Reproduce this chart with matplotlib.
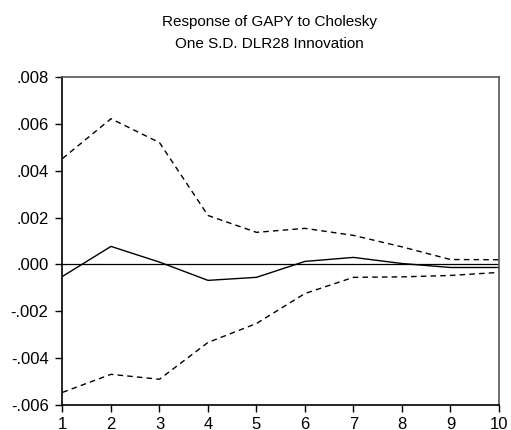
import numpy as np
import matplotlib.pyplot as plt

plt.rcParams['font.family'] = ['Liberation Sans', 'DejaVu Sans']

periods = np.arange(1, 11)
response = [-0.00051, 0.00077, 0.0001, -0.00068, -0.00055, 0.00013, 0.0003, 0.00004, -0.00013, -0.00013]
upper = [0.00452, 0.00622, 0.0052, 0.00209, 0.00137, 0.00154, 0.00124, 0.00075, 0.00021, 0.0002]
lower = [-0.00546, -0.00469, -0.0049, -0.00333, -0.00252, -0.00124, -0.00055, -0.00053, -0.00047, -0.00034]
yticks = [-0.006, -0.004, -0.002, 0.0, 0.002, 0.004, 0.006, 0.008]
yticklabels = ['-.006', '-.004', '-.002', '.000', '.002', '.004', '.006', '.008']

fig = plt.figure(figsize=(5.11, 4.30), dpi=100)
ax = fig.add_axes([0.1223, 0.0581, 0.8542, 0.7628])

ax.axhline(0, color='black', lw=0.9)
ax.plot(periods, response, color='black', lw=1.0)
ax.plot(periods, upper, color='black', lw=1.0, ls=(0, (4, 3)))
ax.plot(periods, lower, color='black', lw=1.0, ls=(0, (4, 3)))

ax.set_xlim(1, 10)
ax.set_ylim(-0.006, 0.008)
ax.set_xticks(periods)
ax.set_yticks(yticks)
ax.set_yticklabels(yticklabels)
ax.tick_params(labelsize=12, length=5, width=1, colors='black')
ax.tick_params(axis='x', pad=3.5)
ax.tick_params(axis='y', pad=5)
for side in ['left', 'bottom']:
    ax.spines[side].set_linewidth(1.2)
for side in ['top', 'right']:
    ax.spines[side].set_color('#555555')
    ax.spines[side].set_linewidth(1.2)

fig.text(0.528, 0.949, 'Response of GAPY to Cholesky', ha='center', va='center', fontsize=11)
fig.text(0.528, 0.897, 'One S.D. DLR28 Innovation', ha='center', va='center', fontsize=11)

fig.savefig('out.png', dpi=100)
